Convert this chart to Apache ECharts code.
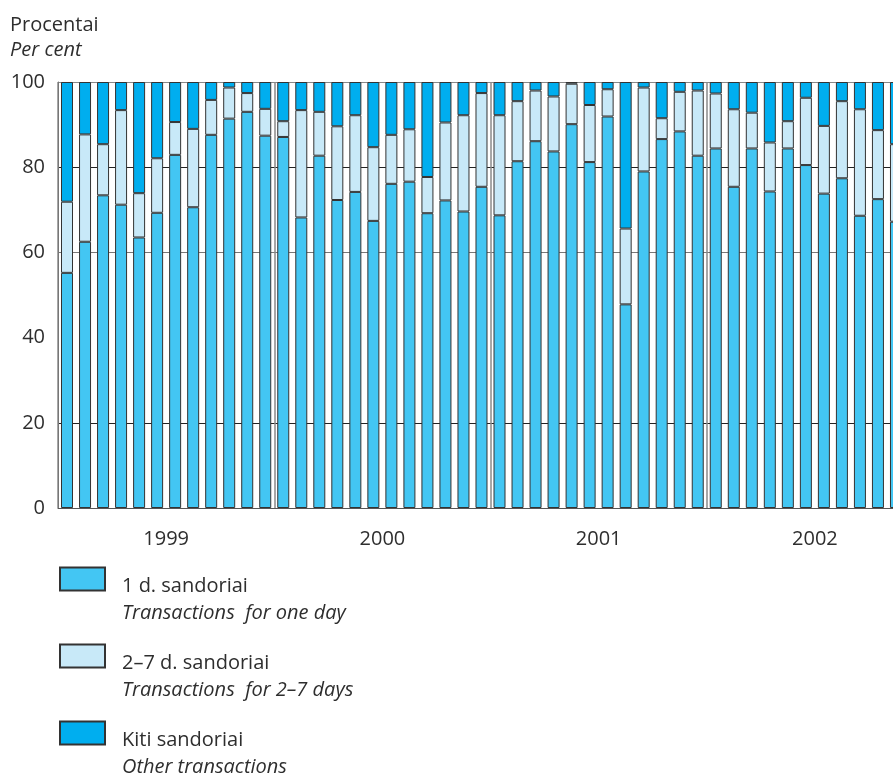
<!DOCTYPE html>
<html>
<head>
<meta charset="utf-8">
<script src="https://cdn.jsdelivr.net/npm/echarts@6/dist/echarts.min.js"></script>
<style>
html,body{margin:0;padding:0;background:#fff;}
#chart{width:893px;height:773px;}
</style>
</head>
<body>
<div id="chart"></div>
<script>
// Months Jan 1999 .. Dec 2002 (Dec 2002 lies outside the visible picture)
const years = ['1999', '2000', '2001', '2002'];
const months = [];
years.forEach(y => { for (let m = 1; m <= 12; m++) months.push(y + '-' + (m < 10 ? '0' + m : m)); });

const yTicks = [0, 20, 40, 60, 80, 100];

// Shares of transactions, per cent
const oneDay = [
  55.2, 62.5, 73.4, 71.2, 63.5, 69.3, 82.9, 70.6, 87.6, 91.4, 93.0, 87.4,
  87.1, 68.2, 82.7, 72.3, 74.2, 67.4, 76.1, 76.6, 69.2, 72.2, 69.6, 75.4,
  68.7, 81.4, 86.1, 83.7, 90.1, 81.2, 91.9, 47.8, 79.0, 86.6, 88.4, 82.7,
  84.4, 75.4, 84.4, 74.3, 84.4, 80.5, 73.8, 77.4, 68.6, 72.5, 67.2
];
const twoToSeven = [
  16.7, 25.2, 12.0, 22.2, 10.4, 12.8, 7.7, 18.4, 8.2, 7.3, 4.4, 6.3,
  3.7, 25.2, 10.3, 17.3, 18.0, 17.3, 11.5, 12.3, 8.5, 18.3, 22.6, 22.0,
  23.5, 14.1, 11.9, 12.9, 9.5, 13.4, 6.4, 17.8, 19.7, 4.9, 9.3, 15.3,
  12.9, 18.2, 8.4, 11.5, 6.4, 15.8, 15.9, 18.1, 25.0, 16.2, 18.2
];
const other = [
  28.1, 12.3, 14.6, 6.6, 26.1, 17.9, 9.4, 11.0, 4.2, 1.3, 2.6, 6.3,
  9.2, 6.6, 7.0, 10.4, 7.8, 15.3, 12.4, 11.1, 22.3, 9.5, 7.8, 2.6,
  7.8, 4.5, 2.0, 3.4, 0.4, 5.4, 1.7, 34.4, 1.3, 8.5, 2.3, 2.0,
  2.7, 6.4, 7.2, 14.2, 9.2, 3.7, 10.3, 4.5, 6.4, 11.3, 14.6
];

const seriesNames = ['1 d. sandoriai', '2–7 d. sandoriai', 'Kiti sandoriai'];
const seriesSubtitles = ['Transactions  for one day', 'Transactions  for 2–7 days', 'Other transactions'];
const seriesColors = ['#43C6F3', '#C8E9F8', '#00AEEF'];

const FONT = '"Open Sans"';
const FS = 20;
const TXT = '#2e2e2e';

const chart = echarts.init(document.getElementById('chart'), null, { renderer: 'canvas' });

const seriesData = [oneDay, twoToSeven, other];

const option = {
  animation: false,
  backgroundColor: '#ffffff',
  textStyle: { fontFamily: FONT },
  title: {
    text: 'Procentai',
    subtext: 'Per cent',
    left: 10,
    top: 14,
    padding: 0,
    itemGap: 3,
    textStyle: { fontFamily: FONT, fontSize: FS, fontWeight: 'normal', color: TXT, lineHeight: 22 },
    subtextStyle: { fontFamily: FONT, fontSize: FS, fontStyle: 'italic', color: TXT, lineHeight: 22 }
  },
  grid: {
    left: 58,
    top: 82,
    height: 426,
    width: 865,
    containLabel: false,
    outerBoundsMode: 'none'
  },
  legend: {
    orient: 'vertical',
    left: 59,
    top: 547,
    width: 400,
    height: 300,
    padding: 0,
    itemGap: 1,
    itemWidth: 45,
    itemHeight: 23,
    icon: 'rect',
    selectedMode: false,
    data: seriesNames,
    formatter: function (name) {
      const i = seriesNames.indexOf(name);
      return '{p| }\n{a|' + name + '}\n{b|' + seriesSubtitles[i] + '}';
    },
    textStyle: {
      fontFamily: FONT,
      color: TXT,
      rich: {
        p: { fontSize: 10, lineHeight: 41 },
        a: { fontFamily: FONT, fontSize: FS, lineHeight: 27, color: TXT, padding: [0, 0, 0, 12] },
        b: { fontFamily: FONT, fontSize: FS, lineHeight: 27, color: TXT, fontStyle: 'italic', padding: [0, 0, 0, 12] }
      }
    }
  },
  xAxis: [
    {
      type: 'category',
      data: months,
      boundaryGap: true,
      axisLine: { show: true, lineStyle: { color: '#555', width: 1 } },
      axisTick: { show: false },
      axisLabel: { show: false },
      splitLine: { show: false }
    },
    {
      type: 'category',
      data: years,
      position: 'bottom',
      boundaryGap: true,
      axisLine: { show: false },
      axisTick: { show: false },
      axisLabel: { show: true, margin: 21, fontFamily: FONT, fontSize: FS, color: TXT },
      splitLine: { show: true, lineStyle: { color: '#8a8a8a', width: 1.5 } }
    }
  ],
  yAxis: {
    type: 'value',
    min: yTicks[0],
    max: yTicks[yTicks.length - 1],
    interval: 20,
    axisLine: { show: true, lineStyle: { color: '#777', width: 1 } },
    axisTick: { show: false },
    axisLabel: { margin: 13, fontFamily: FONT, fontSize: FS, color: TXT },
    splitLine: {
      show: true,
      lineStyle: { color: ['#555', '#222', '#ffffff', '#777', '#222', '#888'], width: 1 }
    }
  },
  series: seriesNames.map((n, i) => ({
    name: n,
    type: 'bar',
    stack: 'total',
    xAxisIndex: 0,
    barWidth: 12,
    itemStyle: { color: seriesColors[i], borderColor: '#333', borderWidth: 1 },
    data: seriesData[i]
  }))
};

chart.setOption(option);
</script>
</body>
</html>
